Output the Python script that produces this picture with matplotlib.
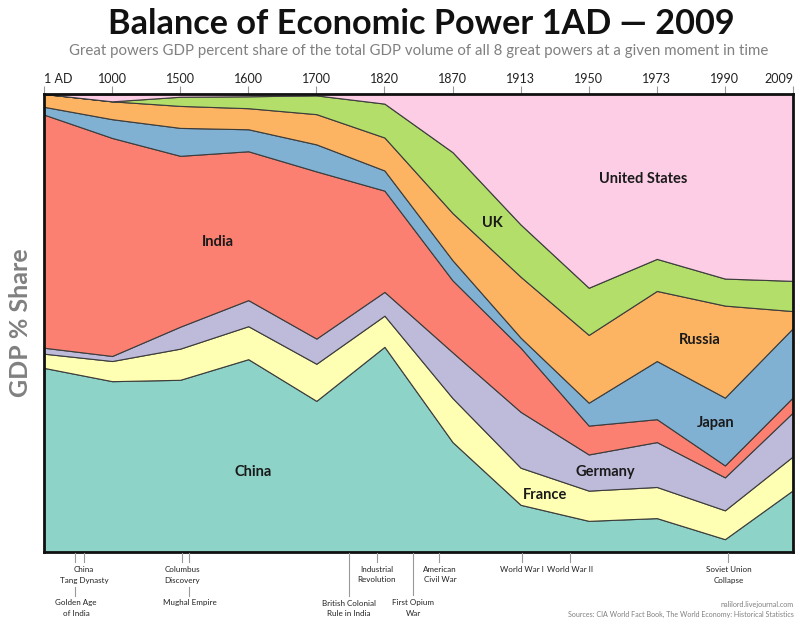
import numpy as np
import matplotlib
matplotlib.use('Agg')
import matplotlib.pyplot as plt
from matplotlib.lines import Line2D

plt.rcParams['font.family'] = ['Lato', 'DejaVu Sans']

# 年のラベル
years = ['1 AD', '1000', '1500', '1600', '1700', '1820', '1870', '1913', '1950', '1973', '1990', '2009']

# GDP share (%)
china = [40.2, 37.3, 37.6, 42.1, 33.0, 44.8, 24.0, 10.3, 6.8, 7.4, 2.8, 13.5]
france = [3.1, 4.4, 6.8, 7.2, 8.1, 6.8, 9.6, 8.1, 6.6, 6.8, 6.3, 7.4]
germany = [1.3, 1.1, 4.8, 5.7, 5.5, 5.2, 10.0, 12.2, 7.9, 9.8, 7.2, 9.6]
india = [50.9, 47.6, 37.3, 32.5, 36.5, 22.1, 15.7, 14.0, 6.3, 5.0, 2.6, 3.3]
japan = [1.7, 4.1, 6.1, 4.8, 5.9, 4.4, 4.4, 2.2, 5.0, 12.7, 14.8, 15.1]
russia = [2.8, 3.9, 4.8, 4.6, 6.6, 7.2, 10.3, 13.3, 14.8, 15.3, 20.1, 3.7]
uk = [0.0, 0.0, 2.0, 2.6, 4.1, 7.4, 13.3, 11.4, 10.3, 7.0, 5.9, 6.6]
usa = [0.0, 1.5, 0.7, 0.4, 0.4, 2.2, 12.7, 28.6, 42.4, 36.0, 40.2, 40.8]

colors = ['#8dd3c7', '#ffffb3', '#bebada', '#fb8072', '#80b1d3', '#fdb462', '#b3de69', '#fccde5']

W, H = 800, 624
fig = plt.figure(figsize=(W / 100, H / 100), dpi=100)
ax = fig.add_axes([44 / W, 1 - 552 / H, (793 - 44) / W, (552 - 94) / H])

x = np.arange(len(years))
ax.stackplot(x, china, france, germany, india, japan, russia, uk, usa,
             colors=colors, edgecolor='#3c3c3c', linewidth=0.8)
ax.set_xlim(0, len(years) - 1)
ax.set_ylim(0, 100)
ax.set_yticks([])

# 上側の年ラベル
ax.xaxis.tick_top()
ax.set_xticks(x)
ax.set_xticklabels(years, fontsize=9, color='#222222')
ax.tick_params(axis='x', length=5.5, width=0.8, color='#999999', pad=1)
ax.get_xticklines()[0].set_visible(False)
ax.get_xticklines()[-2].set_visible(False)
labels = ax.get_xticklabels()
labels[0].set_ha('left')
labels[-1].set_ha('right')
for s in ax.spines.values():
    s.set_linewidth(2)
    s.set_color('#111111')


def px_text(px, py, s, **kw):
    kw.setdefault('ha', 'center')
    kw.setdefault('va', 'center')
    fig.text(px / W, 1 - py / H, s, **kw)


def px_line(px, y0, y1):
    fig.add_artist(Line2D([px / W, px / W], [1 - y0 / H, 1 - y1 / H], color='#999999', lw=0.8))


# タイトル
px_text(421, 24, 'Balance of Economic Power 1AD — 2009', fontsize=24.7, fontweight='bold', color='#111111')
px_text(419, 50.5, 'Great powers GDP percent share of the total GDP volume of all 8 great powers at a given moment in time',
        fontsize=10.8, color='#808080')
px_text(21, 323, 'GDP % Share', fontsize=18, fontweight='bold', color='#808080', rotation=90)

# 国名
for px, py, name in [(253, 472, 'China'), (218, 242, 'India'), (545, 495, 'France'), (605, 472, 'Germany'),
                     (716, 423, 'Japan'), (700, 340, 'Russia'), (492, 223, 'UK'), (643, 179, 'United States')]:
    px_text(px, py, name, fontsize=10.5, fontweight='bold', color='#1a1a1a')

# 下側の出来事
for px, y1 in [(75, 562), (84, 562), (182, 562), (189, 562), (377, 562), (439, 562),
               (522, 562), (570, 562), (728, 562), (349, 596), (413, 595)]:
    px_line(px, 553, y1)
px_line(75, 587, 596)
px_line(189, 587, 596)

for px, py, s in [(84, 570, 'China'), (84, 580, 'Tang Dynasty'), (76, 603, 'Golden Age'), (76, 613, 'of India'),
                  (182, 570, 'Columbus'), (182, 580, 'Discovery'), (190, 603, 'Mughal Empire'),
                  (349, 603, 'British Colonial'), (349, 613, 'Rule in India'),
                  (377, 570, 'Industrial'), (377, 580, 'Revolution'),
                  (413, 603, 'First Opium'), (413, 613, 'War'),
                  (440, 570, 'American'), (440, 580, 'Civil War'),
                  (522, 570, 'World War I'), (570, 570, 'World War II'),
                  (729, 570, 'Soviet Union'), (729, 580, 'Collapse')]:
    px_text(px, py, s, fontsize=5.8, color='#222222')

px_text(794, 604, 'nalilord.livejournal.com', ha='right', fontsize=5.2, color='#808080')
px_text(794, 614, 'Sources: CIA World Fact Book, The World Economy: Historical Statistics', ha='right',
        fontsize=5.1, color='#808080')

fig.savefig('out.png', dpi=100)
